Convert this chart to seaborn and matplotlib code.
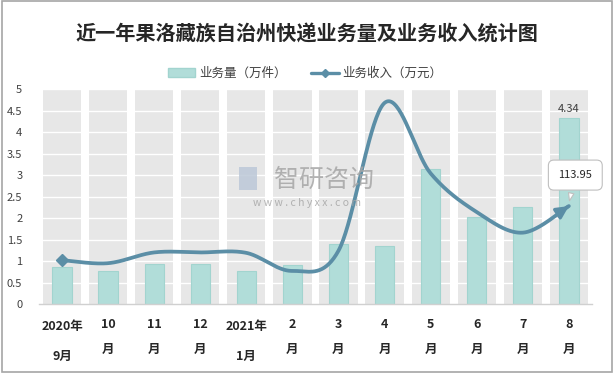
import numpy as np
import pandas as pd
import matplotlib
matplotlib.use("Agg")
import matplotlib.pyplot as plt
import seaborn as sns
from matplotlib.patches import Rectangle
from matplotlib.lines import Line2D

# ---- data ----
categories = ["2020年\n9月", "10\n月", "11\n月", "12\n月", "2021年\n1月", "2\n月",
              "3\n月", "4\n月", "5\n月", "6\n月", "7\n月", "8\n月"]
volume = [0.85, 0.76, 0.93, 0.93, 0.76, 0.90, 1.39, 1.36, 3.15, 2.03, 2.25, 4.34]   # 万件
revenue = [51, 47.5, 60, 60, 59.5, 38.5, 62, 234, 152, 107, 83, 113.95]             # 万元
yticks = [0, 0.5, 1, 1.5, 2, 2.5, 3, 3.5, 4, 4.5, 5]

sns.set_theme(style="white")
plt.rcParams['font.family'] = ['Noto Sans CJK SC', 'DejaVu Sans']

BAR = "#b1ddd9"
BAR_EDGE = "#a2d4cf"
LINE = "#5b8ea6"
BG = "#e7e7e7"

fig = plt.figure(figsize=(6.14, 3.73), dpi=100)
fig.patch.set_facecolor("white")
fig.add_artist(Rectangle((0.003, 0.003), 0.994, 0.994, transform=fig.transFigure,
                         fill=False, edgecolor="#a6a6a6", lw=1.2))

ax = fig.add_axes([0.0635, 0.185, 0.9005, 0.576])
df = pd.DataFrame({"cat": categories, "volume": volume, "full": [5] * len(categories)})

# gray background columns
sns.barplot(data=df, x="cat", y="full", color=BG, width=0.83, ax=ax,
            saturation=1, zorder=1, edgecolor="none")
# white gridlines
for t in yticks[1:]:
    ax.axhline(t, color="white", lw=1.0, zorder=1.5)
# teal bars
sns.barplot(data=df, x="cat", y="volume", color=BAR, width=0.42, ax=ax,
            saturation=1, zorder=2, edgecolor=BAR_EDGE, linewidth=0.8)

ax.set_xlim(-0.5, len(categories) - 0.5)
ax.set_ylim(0, 5)
ax.set_yticks(yticks)
ax.set_yticklabels([f"{t:g}" for t in yticks], fontsize=8, color="#404040")
ax.set_xlabel("")
ax.set_ylabel("")
for s in ["top", "right", "left"]:
    ax.spines[s].set_visible(False)
ax.spines["bottom"].set_color("#d0d0d0")
ax.spines["bottom"].set_linewidth(1)
ax.set_xticks(range(len(categories)))
labels = ax.set_xticklabels(categories, fontsize=9, fontweight="bold", color="#262626",
                            linespacing=2.2, va="top")
for lab in labels:
    if "年" in lab.get_text():
        lab.set_linespacing(2.6)
        lab.set_y(-0.012)
ax.tick_params(axis="x", length=0, pad=10)
ax.tick_params(axis="y", length=0, pad=12)
ax.set_xticks(np.arange(-0.5, len(categories), 1), minor=True)
ax.tick_params(axis="x", which="minor", length=5, color="#d0d0d0", width=1)

# value label on last bar
ax.text(len(categories) - 1, volume[-1] + 0.08, f"{volume[-1]:.2f}", ha="center",
        va="bottom", fontsize=8, color="#404040", zorder=5)

# ---- smoothed revenue line on hidden secondary axis ----
ax2 = ax.twinx()
ax2.set_ylim(0, 250)
ax2.axis("off")

x = np.arange(len(revenue), dtype=float)
y = np.array(revenue, dtype=float)
px = np.concatenate([[x[0]], x, [x[-1]]])
py = np.concatenate([[y[0]], y, [y[-1]]])
xs, ys = [], []
t = np.linspace(0, 1, 40)
for i in range(len(x) - 1):
    p0 = np.array([px[i + 1], py[i + 1]])
    p3 = np.array([px[i + 2], py[i + 2]])
    p1 = p0 + (np.array([px[i + 2], py[i + 2]]) - np.array([px[i], py[i]])) / 6
    p2 = p3 - (np.array([px[i + 3], py[i + 3]]) - np.array([px[i + 1], py[i + 1]])) / 6
    b = ((1 - t) ** 3)[:, None] * p0 + (3 * (1 - t) ** 2 * t)[:, None] * p1 + \
        (3 * (1 - t) * t ** 2)[:, None] * p2 + (t ** 3)[:, None] * p3
    xs.extend(b[:, 0]); ys.extend(b[:, 1])
curve = pd.DataFrame({"x": xs, "y": ys})
sns.lineplot(data=curve, x="x", y="y", ax=ax2, color=LINE, lw=2.7, sort=False,
             zorder=3)
ax2.plot([x[0]], [y[0]], marker="D", ms=6, color=LINE, zorder=4)
ax2.annotate("", xy=(xs[-1], ys[-1]), xytext=(xs[-6], ys[-6]),
             arrowprops=dict(arrowstyle="-|>,head_length=0.6,head_width=0.3",
                             color=LINE, lw=2.4), zorder=4)
ax2.set_xlim(-0.5, len(categories) - 0.5)

# callout
ax2.annotate(f"{revenue[-1]:.2f}", xy=(x[-1], y[-1] + 3), xytext=(x[-1] + 0.14, 150),
             ha="center", va="center", fontsize=8, color="#262626",
             bbox=dict(boxstyle="round,pad=0.9,rounding_size=0.5", fc="white",
                       ec="#bfbfbf", lw=0.8),
             arrowprops=dict(arrowstyle="wedge,tail_width=0.5", fc="white",
                             ec="#bfbfbf", lw=0.8), zorder=6)

# watermark
fig.text(0.528, 0.518, "智研咨询", fontsize=18, color="#a6a6a6", alpha=0.85,
         ha="center", va="center")
fig.text(0.5, 0.455, "w w w . c h y x x . c o m", fontsize=7.5, color="#a6a6a6",
         alpha=0.85, ha="center", va="center")
fig.add_artist(Rectangle((0.389, 0.49), 0.03, 0.062, transform=fig.transFigure,
                         fc="#bcc8d8", ec="none", alpha=0.85))

# title and legend
fig.text(0.5, 0.91, "近一年果洛藏族自治州快递业务量及业务收入统计图", ha="center",
         va="center", fontsize=14.5, fontweight="bold", color="#262626")
handles = [Rectangle((0, 0), 1, 1, fc=BAR, ec=BAR_EDGE),
           Line2D([0], [0], color=LINE, lw=2.4, marker="D", ms=4)]
fig.legend(handles, ["业务量（万件）", "业务收入（万元）"], loc="center",
           bbox_to_anchor=(0.497, 0.803), ncol=2, frameon=False, fontsize=9,
           handlelength=2.2, columnspacing=2.0, handletextpad=0.3,
           labelcolor="#404040")

fig.savefig("out.png", dpi=100)
